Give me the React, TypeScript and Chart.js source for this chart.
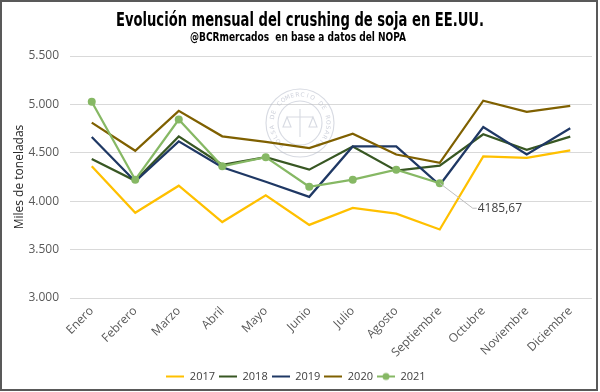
import React, { useEffect, useRef } from "react";
import { Chart, registerables } from "chart.js";

Chart.register(...registerables);

const months = ["Enero", "Febrero", "Marzo", "Abril", "Mayo", "Junio", "Julio", "Agosto", "Septiembre", "Octubre", "Noviembre", "Diciembre"];
const s2017 = [4360, 3880, 4160, 3785, 4060, 3755, 3930, 3872, 3708, 4462, 4448, 4525];
const s2018 = [4435, 4211, 4670, 4376, 4455, 4326, 4566, 4316, 4368, 4691, 4531, 4667];
const s2019 = [4663, 4204, 4618, 4350, 4201, 4045, 4566, 4566, 4167, 4767, 4482, 4753];
const s2020 = [4812, 4521, 4933, 4670, 4612, 4548, 4698, 4482, 4396, 5038, 4923, 4985];
const s2021 = [5027, 4222, 4844, 4360, 4455, 4149, 4222, 4326, 4185.67, null, null, null];
const seriesNames = ["2017", "2018", "2019", "2020", "2021"];
const seriesColors = ["#FFC000", "#385723", "#1F3864", "#7F6000", "#86B864"];
const titleText = "Evolución mensual del crushing de soja en EE.UU.";
const subtitleText = "@BCRmercados  en base a datos del NOPA";
const yTitle = "Miles de toneladas";
const annotIndex = 8;
const annotText = "4185,67";

const FONT = "'Open Sans', 'Liberation Sans', sans-serif";
const NARROW = "'Liberation Sans Narrow', 'DejaVu Sans Condensed', sans-serif";

function fmtThousands(v: number) {
  const n = Math.round(v);
  const hi = Math.floor(n / 1000);
  const lo = n % 1000;
  return hi > 0 ? `${hi}.${String(lo).padStart(3, "0")}` : String(lo);
}

function legendIcon(color: string, dot: boolean) {
  const c = document.createElement("canvas");
  c.width = 18;
  c.height = 10;
  const g = c.getContext("2d")!;
  g.strokeStyle = color;
  g.lineWidth = 2;
  g.beginPath();
  g.moveTo(0, 5);
  g.lineTo(18, 5);
  g.stroke();
  if (dot) {
    g.fillStyle = color;
    g.beginPath();
    g.arc(9, 5, 3.5, 0, Math.PI * 2);
    g.fill();
  }
  return c;
}

const decorPlugin = {
  id: "decor",
  beforeDraw(chart: any) {
    const ctx = chart.ctx;
    ctx.save();
    ctx.fillStyle = "#ffffff";
    ctx.fillRect(0, 0, chart.width, chart.height);
    ctx.restore();
  },
  beforeDatasetsDraw(chart: any) {
    const ctx = chart.ctx;
    const cx = 300, cy = 123, r = 34;
    ctx.save();
    ctx.strokeStyle = "rgba(175,182,198,0.5)";
    ctx.lineWidth = 1.1;
    ctx.beginPath();
    ctx.arc(cx, cy, r, 0, Math.PI * 2);
    ctx.stroke();
    ctx.beginPath();
    ctx.arc(cx, cy, r - 12, 0, Math.PI * 2);
    ctx.stroke();
    ctx.fillStyle = "rgba(165,172,190,0.55)";
    ctx.font = "6px 'DejaVu Sans'";
    ctx.textAlign = "center";
    ctx.textBaseline = "middle";
    const seal = "BOLSA DE COMERCIO DE ROSARIO";
    const start = -Math.PI * 1.28;
    const span = Math.PI * 1.56;
    for (let i = 0; i < seal.length; i++) {
      const a = start + (span * i) / (seal.length - 1);
      ctx.save();
      ctx.translate(cx + Math.cos(a) * (r - 6), cy + Math.sin(a) * (r - 6));
      ctx.rotate(a + Math.PI / 2);
      ctx.fillText(seal[i], 0, 0);
      ctx.restore();
    }
    ctx.beginPath();
    ctx.moveTo(cx, cy - 14);
    ctx.lineTo(cx, cy + 14);
    ctx.moveTo(cx - 13, cy - 6);
    ctx.lineTo(cx + 13, cy - 6);
    ctx.moveTo(cx - 13, cy - 6);
    ctx.lineTo(cx - 17, cy + 4);
    ctx.lineTo(cx - 9, cy + 4);
    ctx.closePath();
    ctx.moveTo(cx + 13, cy - 6);
    ctx.lineTo(cx + 9, cy + 4);
    ctx.lineTo(cx + 17, cy + 4);
    ctx.closePath();
    ctx.stroke();
    ctx.restore();
  },
  afterDraw(chart: any) {
    const ctx = chart.ctx;
    ctx.save();
    ctx.fillStyle = "#000000";
    ctx.textAlign = "center";
    ctx.textBaseline = "middle";
    ctx.font = `bold 20px ${NARROW}`;
    const tw = ctx.measureText(titleText).width;
    const sx = Math.min(1, 368 / tw);
    ctx.save();
    ctx.translate(300, 21);
    ctx.scale(sx, 1);
    ctx.fillText(titleText, 0, 0);
    ctx.restore();
    ctx.font = `bold 12px ${NARROW}`;
    const sw = ctx.measureText(subtitleText).width;
    const ss = Math.min(1, 216 / sw);
    ctx.save();
    ctx.translate(298, 38);
    ctx.scale(ss, 1);
    ctx.fillText(subtitleText, 0, 0);
    ctx.restore();

    const meta = chart.getDatasetMeta(4);
    const pt = meta.data[annotIndex];
    if (pt) {
      const px = pt.x, py = pt.y;
      const lx = px + 33, ly = py + 25;
      ctx.strokeStyle = "#bfbfbf";
      ctx.lineWidth = 1;
      ctx.beginPath();
      ctx.moveTo(px, py);
      ctx.lineTo(lx, ly);
      ctx.lineTo(lx + 4, ly);
      ctx.stroke();
      ctx.fillStyle = "#404040";
      ctx.font = `12px ${FONT}`;
      ctx.textAlign = "left";
      ctx.textBaseline = "middle";
      ctx.fillText(annotText, lx + 5, ly);
    }

    ctx.strokeStyle = "#595959";
    ctx.lineWidth = 2;
    ctx.strokeRect(1, 1, 596, 389);
    ctx.restore();
  },
};

export default function App() {
  const ref = useRef<HTMLCanvasElement>(null);
  useEffect(() => {
    const datasets = [s2017, s2018, s2019, s2020, s2021].map((d, i) => ({
      label: seriesNames[i],
      data: d,
      borderColor: seriesColors[i],
      backgroundColor: seriesColors[i],
      borderWidth: 2.25,
      pointRadius: i === 4 ? 4 : 0,
      pointHoverRadius: i === 4 ? 4 : 0,
      pointBorderWidth: 0,
      tension: 0,
      spanGaps: false,
      order: 5 - i,
    }));
    const chart = new Chart(ref.current!, {
      type: "line",
      data: { labels: months, datasets },
      options: {
        animation: false,
        responsive: false,
        maintainAspectRatio: false,
        devicePixelRatio: 1,
        layout: { padding: { top: 56, left: 0, right: 8, bottom: 0 } },
        plugins: {
          title: { display: false },
          tooltip: { enabled: false },
          legend: {
            position: "bottom",
            labels: {
              usePointStyle: true,
              pointStyleWidth: 18,
              boxHeight: 10,
              padding: 4,
              color: "#404040",
              font: { family: FONT, size: 11 },
              generateLabels: (ch: any) =>
                ch.data.datasets.map((ds: any, i: number) => ({
                  text: ds.label,
                  fillStyle: ds.borderColor,
                  strokeStyle: ds.borderColor,
                  lineWidth: 0,
                  pointStyle: legendIcon(ds.borderColor, i === 4),
                  hidden: false,
                  datasetIndex: i,
                  fontColor: "#404040",
                })),
            },
          },
        },
        scales: {
          x: {
            type: "category",
            offset: true,
            grid: { display: false, drawTicks: false },
            border: { display: false },
            ticks: {
              color: "#595959",
              font: { family: FONT, size: 12 },
              minRotation: 45,
              maxRotation: 45,
              padding: 6,
              autoSkip: false,
            },
            afterFit: (s: any) => {
              s.height = 69;
            },
          },
          y: {
            min: 3000,
            max: 5500,
            grid: { color: "#d9d9d9", drawTicks: false, lineWidth: 1 },
            border: { display: false },
            ticks: {
              stepSize: 500,
              padding: 11,
              color: "#595959",
              font: { family: FONT, size: 12 },
              callback: (v: any) => fmtThousands(Number(v)),
            },
            title: {
              display: true,
              text: yTitle,
              color: "#262626",
              font: { family: FONT, size: 12 },
              padding: { top: 12, bottom: 0 },
            },
            afterFit: (s: any) => {
              s.width = 70;
            },
          },
        },
      },
      plugins: [decorPlugin],
    });
    return () => chart.destroy();
  }, []);
  return (
    <div style={{ position: "fixed", left: 0, top: 0, width: 600, height: 392, background: "#fff" }}>
      <canvas ref={ref} width={600} height={392} style={{ width: 600, height: 392, display: "block" }} />
    </div>
  );
}
